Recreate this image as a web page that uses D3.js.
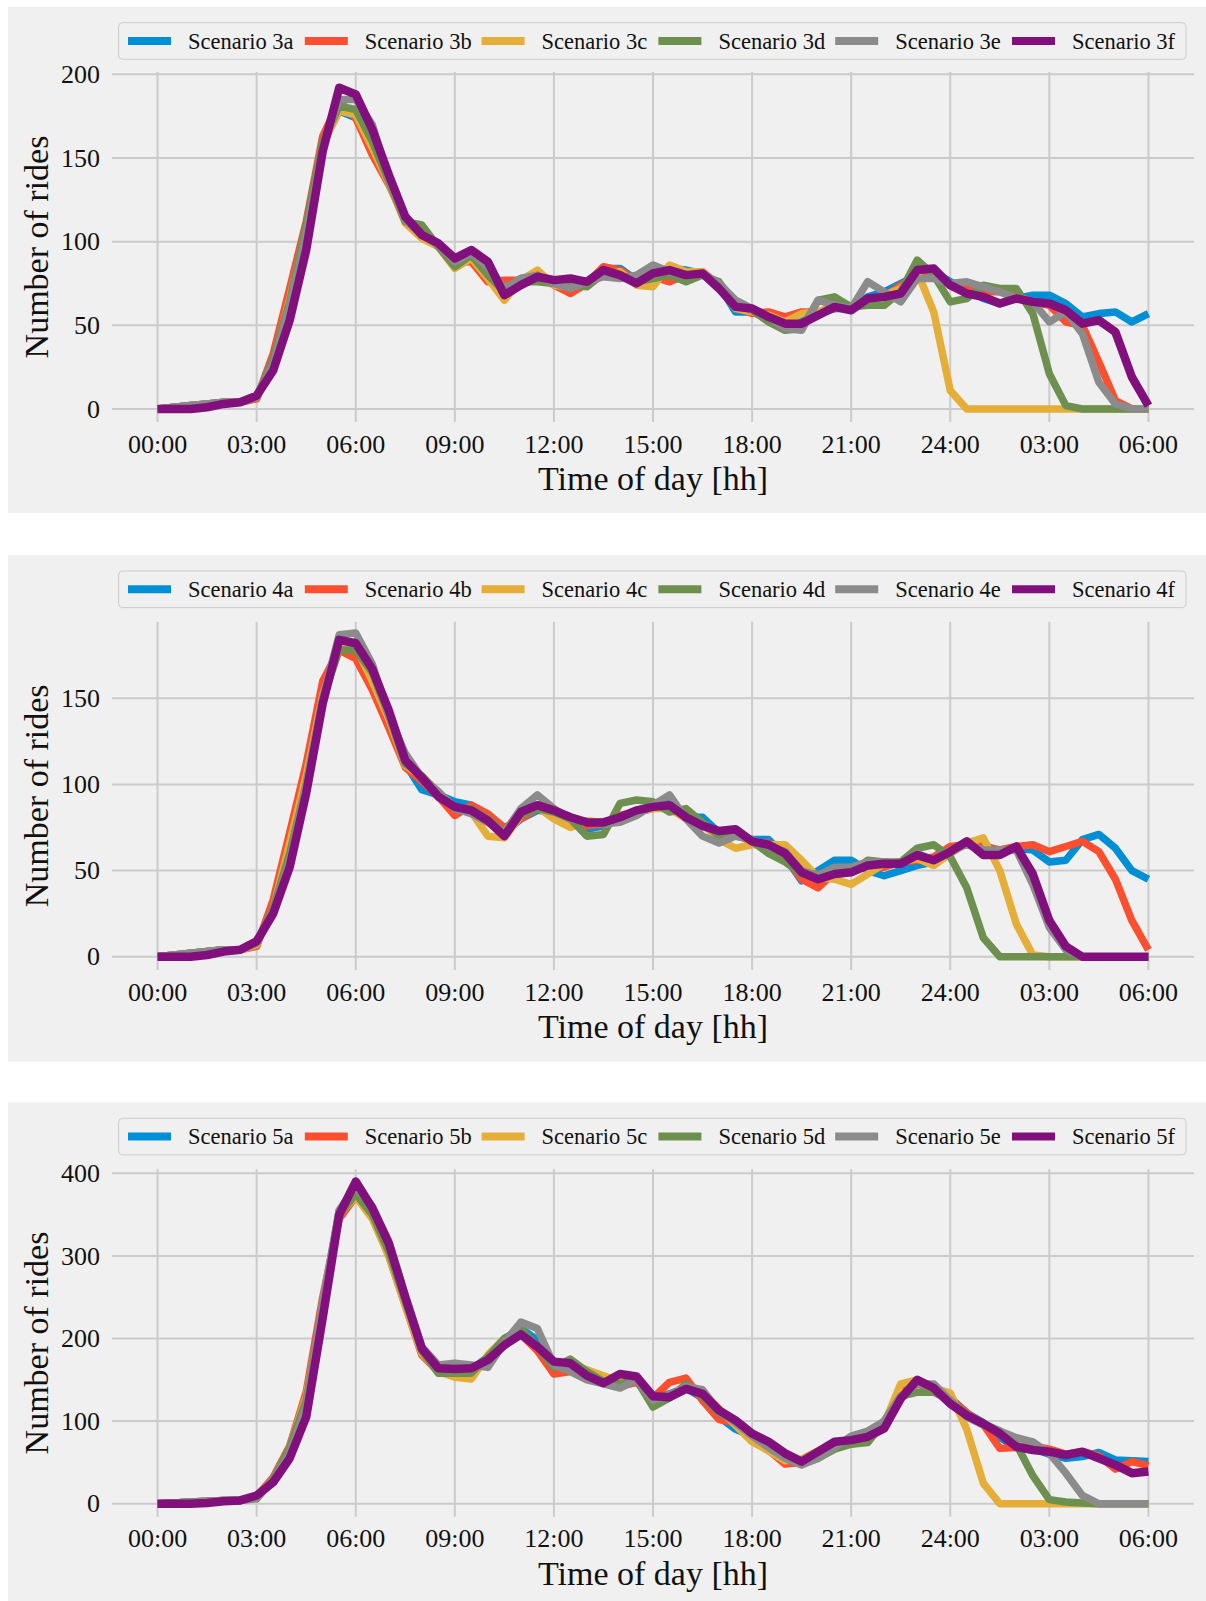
<!DOCTYPE html>
<html>
<head>
<meta charset="utf-8">
<script src="https://cdn.jsdelivr.net/npm/d3@7"></script>
<style>
  html, body { margin: 0; padding: 0; background: #ffffff; }
  svg { display: block; }
  text { font-family: "Liberation Serif", "DejaVu Serif", serif; fill: #111; }
</style>
</head>
<body>
<svg id="chart" width="1206" height="1601"></svg>
<script>
// Half-hour sampling from 00:00 to 06:00 of the following day
const hours = d3.range(0, 30.5, 0.5);

const xTickHours = [0, 3, 6, 9, 12, 15, 18, 21, 24, 27, 30];
const xTickLabels = ["00:00", "03:00", "06:00", "09:00", "12:00", "15:00",
                     "18:00", "21:00", "24:00", "03:00", "06:00"];

const seriesColors = ["#008fd5", "#fc4f30", "#e5ae38", "#6d904f", "#8b8b8b", "#810f7c"];

// ---- Scenario 3 ----
const names3 = ["Scenario 3a", "Scenario 3b", "Scenario 3c", "Scenario 3d", "Scenario 3e", "Scenario 3f"];
const s3a = [0,1,2,3,4,4,7,28,65,108, 160,178,174,158,138,113,104,98,87,92, 84,72,78,80,76,72,74,84,84,77, 82,84,83,81,74,58,58,54,50,53, 57,60,60,67,70,75,80,82,76,72, 66,63,66,68,68,63,55,57,58,52,57];
const s3b = [0,1,2,3,4,4,6,33,72,112, 163,184,174,152,134,113,103,98,88,88, 76,77,77,80,74,69,75,85,83,77, 79,76,80,82,74,61,57,58,55,58, 58,60,61,65,67,74,80,80,74,72, 70,70,68,64,62,52,50,28,5,0,0];
const s3c = [0,1,2,3,4,4,7,28,66,108, 158,178,176,156,135,111,102,97,84,90, 78,65,77,83,74,73,75,80,82,74, 73,86,82,82,73,60,58,56,52,57, 58,62,60,64,68,72,82,58,11,0, 0,0,0,0,0,0,0,0,0,0,0];
const s3d = [0,1,2,3,4,4,7,30,64,110, 160,181,179,160,136,112,110,97,85,92, 80,70,76,76,75,74,73,81,80,76, 78,80,76,80,76,62,59,52,47,48, 65,67,61,62,62,70,89,80,64,66, 74,72,72,57,21,2,0,0,0,0,0];
const s3e = [0,1,2,3,4,4,7,27,62,105, 156,185,185,170,138,113,104,98,88,93, 85,72,78,80,75,72,76,79,78,80, 86,82,80,81,75,65,60,55,48,47, 65,62,60,76,70,64,78,78,75,76, 73,70,66,64,52,58,45,16,3,0,0];
const s3f = [0,0,0,1,3,4,8,23,53,95, 154,192,188,167,140,115,104,99,90,95, 88,68,74,79,77,78,76,83,80,75, 81,83,80,81,72,61,60,55,51,51, 56,61,59,66,67,69,83,84,74,69, 67,63,66,64,63,59,51,53,46,19,2];

// ---- Scenario 4 ----
const names4 = ["Scenario 4a", "Scenario 4b", "Scenario 4c", "Scenario 4d", "Scenario 4e", "Scenario 4f"];
const s4a = [0,1,2,3,4,4,7,30,62,105, 158,180,178,160,136,112,97,94,90,88, 80,72,80,85,84,79,74,76,80,84, 88,89,81,81,72,70,68,68,58,44, 50,56,56,50,47,50,53,55,60,66, 65,61,63,62,55,56,68,71,63,50,45];
const s4b = [0,1,2,3,4,4,6,33,72,112, 160,178,173,155,133,110,102,93,82,88, 83,75,80,86,86,78,76,77,82,84, 86,87,83,77,72,72,66,66,58,45, 40,49,52,52,52,55,56,58,64,65, 64,62,64,65,61,64,67,61,45,21,4];
const s4c = [0,1,2,3,4,4,7,28,66,105, 152,180,180,160,138,111,105,95,87,84, 70,69,82,87,80,75,79,78,80,84, 86,86,80,77,68,63,65,65,65,56, 46,45,42,48,54,55,57,53,60,66, 69,50,19,1,0,0,0,0,0,0,0];
const s4d = [0,1,2,3,4,4,8,28,60,100, 150,178,178,165,140,112,105,95,86,86, 80,72,82,86,84,80,70,71,89,91, 90,84,86,78,70,72,67,60,55,48, 48,50,49,56,55,55,63,65,58,40, 11,0,0,0,0,0,0,0,0,0,0];
const s4e = [0,1,2,3,4,4,8,26,56,100, 150,187,188,170,140,118,104,96,86,83, 78,72,86,94,86,80,78,77,78,82, 88,94,80,70,66,70,68,64,61,50, 47,52,52,55,55,54,60,56,62,65, 62,62,62,42,17,4,0,0,0,0,0];
const s4f = [0,0,0,1,3,4,9,25,52,95, 147,184,182,167,143,114,104,93,87,85, 79,70,84,88,85,81,78,78,81,85, 87,88,81,76,73,74,67,65,60,49, 45,48,49,53,54,54,59,56,61,67, 59,59,64,48,21,6,0,0,0,0,0];

// ---- Scenario 5 ----
const names5 = ["Scenario 5a", "Scenario 5b", "Scenario 5c", "Scenario 5d", "Scenario 5e", "Scenario 5f"];
const s5a = [0,1,2,3,4,4,8,30,65,125, 240,355,378,352,305,245,185,162,165,162, 178,198,212,198,165,168,158,150,148,152, 125,133,140,128,105,90,82,70,55,48, 58,70,80,85,95,135,145,140,128,110, 98,80,68,67,60,55,57,62,53,52,51];
const s5b = [0,1,2,3,4,4,9,32,70,135, 250,345,372,350,300,240,180,160,162,160, 178,200,205,185,157,160,160,150,142,147, 128,147,152,125,102,98,80,65,48,50, 60,72,78,82,97,135,145,140,128,110, 96,67,68,70,66,60,63,58,42,51,46];
const s5c = [0,1,2,3,4,4,8,30,68,130, 235,350,372,345,300,240,182,160,153,151, 180,200,208,190,170,168,162,155,148,152, 128,130,140,135,115,95,75,64,52,54, 64,72,74,75,97,145,150,140,134,90, 25,0,0,0,0,0,0,0,0,0,0];
const s5d = [0,1,2,3,4,4,6,30,68,125, 240,350,375,350,305,245,185,158,158,158, 178,200,212,190,165,175,160,148,145,150, 117,128,145,130,110,100,85,70,58,48, 55,66,72,74,100,130,135,135,125,108, 97,88,72,34,5,2,1,0,0,0,0];
const s5e = [0,1,2,3,4,4,7,28,62,118, 245,355,385,360,318,252,190,168,170,168, 165,195,220,212,168,160,150,145,140,150, 125,132,142,138,112,98,82,68,55,47, 55,68,82,88,100,130,145,145,125,105, 95,88,80,75,61,37,10,0,0,0,0];
const s5f = [0,0,0,1,3,4,10,26,55,105, 225,350,390,358,315,250,188,164,163,164, 174,192,205,190,172,170,155,146,157,154, 130,129,139,133,113,101,85,75,61,51, 63,75,77,81,91,127,150,140,121,107, 97,85,69,65,63,59,63,55,47,37,39];

const yTicks3 = [0, 50, 100, 150, 200];
const yTicks4 = [0, 50, 100, 150];
const yTicks5 = [0, 100, 200, 300, 400];

// Layout of the three stacked panels
const panels = [
  { bgTop: 6.7,   bgH: 506.3, axTop: 72,     axBottom: 422,    yMin: -7.8,  yMax: 201.4,
    ticks: yTicks3, names: names3, series: [s3a, s3b, s3c, s3d, s3e, s3f] },
  { bgTop: 555,   bgH: 506.7, axTop: 621.7,  axBottom: 970,    yMin: -7.7,  yMax: 194.5,
    ticks: yTicks4, names: names4, series: [s4a, s4b, s4c, s4d, s4e, s4f] },
  { bgTop: 1102.3, bgH: 498.7, axTop: 1169.3, axBottom: 1516.7, yMin: -15.7, yMax: 404.8,
    ticks: yTicks5, names: names5, series: [s5a, s5b, s5c, s5d, s5e, s5f] }
];

const svg = d3.select("#chart");
const axLeft = 112, axRight = 1194;
const x = d3.scaleLinear().domain([-1.38, 31.38]).range([axLeft, axRight]);
const gridColor = "#cbcbcb";

panels.forEach(p => {
  const g = svg.append("g");
  const y = d3.scaleLinear().domain([p.yMin, p.yMax]).range([p.axBottom, p.axTop]);

  // panel background
  g.append("rect").attr("x", 8).attr("y", p.bgTop).attr("width", 1198).attr("height", p.bgH)
    .attr("fill", "#f0f0f0");

  // grid lines
  g.append("g").selectAll("line").data(xTickHours).join("line")
    .attr("x1", d => x(d)).attr("x2", d => x(d))
    .attr("y1", p.axTop).attr("y2", p.axBottom)
    .attr("stroke", gridColor).attr("stroke-width", 2);
  g.append("g").selectAll("line").data(p.ticks).join("line")
    .attr("x1", axLeft).attr("x2", axRight)
    .attr("y1", d => y(d)).attr("y2", d => y(d))
    .attr("stroke", gridColor).attr("stroke-width", 2);

  // tick labels
  g.append("g").selectAll("text").data(xTickHours).join("text")
    .attr("x", d => x(d)).attr("y", p.axBottom + 22 + 8.7)
    .attr("text-anchor", "middle").attr("font-size", 26)
    .text((d, i) => xTickLabels[i]);
  g.append("g").selectAll("text").data(p.ticks).join("text")
    .attr("x", 100).attr("y", d => y(d) + 8.7)
    .attr("text-anchor", "end").attr("font-size", 26)
    .text(d => d);

  // axis titles
  g.append("text").attr("x", (axLeft + axRight) / 2).attr("y", p.axBottom + 68)
    .attr("text-anchor", "middle").attr("font-size", 34)
    .text("Time of day [hh]");
  const cy = (p.axTop + p.axBottom) / 2;
  g.append("text").attr("transform", `translate(48,${cy}) rotate(-90)`)
    .attr("text-anchor", "middle").attr("font-size", 34)
    .text("Number of rides");

  // series lines
  const line = d3.line().x((d, i) => x(hours[i])).y(d => y(d));
  g.append("g").selectAll("path").data(p.series).join("path")
    .attr("d", d => line(d))
    .attr("fill", "none")
    .attr("stroke", (d, i) => seriesColors[i])
    .attr("stroke-width", (d, i) => i === 5 ? 8.5 : 7.5)
    .attr("stroke-linejoin", "round")
    .attr("stroke-linecap", "butt");

  // legend
  const lg = g.append("g");
  const lTop = p.bgTop + 16, lH = 36.6;
  lg.append("rect").attr("x", 118.6).attr("y", lTop).attr("width", 1067.4).attr("height", lH)
    .attr("rx", 4).attr("fill", "#f0f0f0").attr("stroke", "#cccccc").attr("stroke-width", 1);
  const lcy = lTop + lH / 2;
  p.names.forEach((name, i) => {
    const x0 = 128 + i * 176.8;
    lg.append("line").attr("x1", x0).attr("x2", x0 + 43).attr("y1", lcy).attr("y2", lcy)
      .attr("stroke", seriesColors[i]).attr("stroke-width", 8);
    lg.append("text").attr("x", x0 + 60).attr("y", lcy + 7.5)
      .attr("font-size", 22.5).text(name);
  });
});
</script>
</body>
</html>
